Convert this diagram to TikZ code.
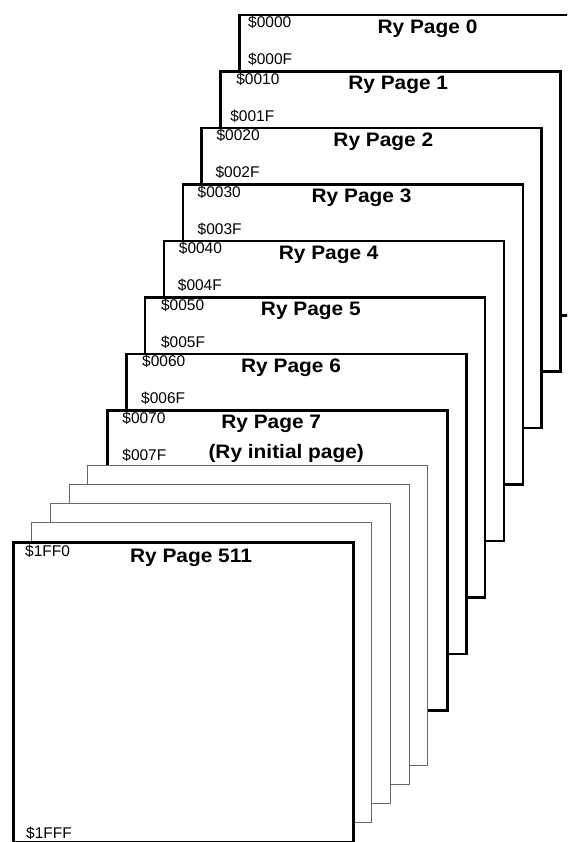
\documentclass[tikz,border=0pt]{standalone}
\usepackage{fontspec}
\setmainfont{Liberation Sans}
\newfontfamily\titlefont[FakeStretch=1.07]{Liberation Sans Bold}
\usetikzlibrary{positioning}

\begin{document}
\begin{tikzpicture}[x=1pt, y=-1pt,
  page/.style={draw, fill=white, line width=2.5pt, rectangle, anchor=north west, minimum width=340pt, minimum height=300pt, inner sep=0pt},
  blank/.style={page, draw=black!60, line width=1pt},
  addr/.style={anchor=base west, inner sep=0pt, font=\fontsize{15.5}{18}\selectfont},
  ttl/.style={anchor=base, inner sep=0pt, font=\titlefont\fontsize{19.5}{22}\selectfont}
]
\clip (0,0) rectangle (567,842);
\fill[white] (0,0) rectangle (567,842);
% pages 0 to 7, back to front
\foreach \i/\lo/\hi/\ax/\bx/\tx in {0/0000/000F/10/10/189.5, 1/0010/001F/17/11/179, 2/0020/002F/16/15/183, 3/0030/003F/16/16/180, 4/0040/004F/16/15/166, 5/0050/005F/17/17/167, 6/0060/006F/17/16/166, 7/0070/007F/16/16/165} {
  \pgfmathsetmacro\px{238-18.83*\i}
  \pgfmathsetmacro\py{14+56.43*\i}
  \node[page] (page\i) at (\px,\py) {};
  \node[addr] (lo\i) at ([xshift=\ax pt, yshift=-14pt]page\i.north west) {\$\lo};
  \node[addr] (hi\i) at ([xshift=\bx pt, yshift=-51pt]page\i.north west) {\$\hi};
  \node[ttl] (title\i) at ([xshift=\tx pt, yshift=-19.5pt]page\i.north west) {Ry Page \i};
}
\node[ttl] (note7) at ([xshift=180pt, yshift=-49pt]page7.north west) {(Ry initial page)};
% pages in between
\foreach \i in {8,...,11} {
  \pgfmathsetmacro\px{238-18.83*\i}
  \pgfmathsetmacro\py{465.4+19*(\i-8)}
  \node[blank] (blank\i) at (\px,\py) {};
}
% last page
\node[page] (page511) at (12,541.4) {};
\node[addr] (lo511) at ([xshift=13pt, yshift=-15pt]page511.north west) {\$1FF0};
\node[addr] (hi511) at ([xshift=14pt, yshift=5pt]page511.south west) {\$1FFF};
\node[ttl] (title511) at ([xshift=179pt, yshift=-21pt]page511.north west) {Ry Page 511};
\end{tikzpicture}
\end{document}
